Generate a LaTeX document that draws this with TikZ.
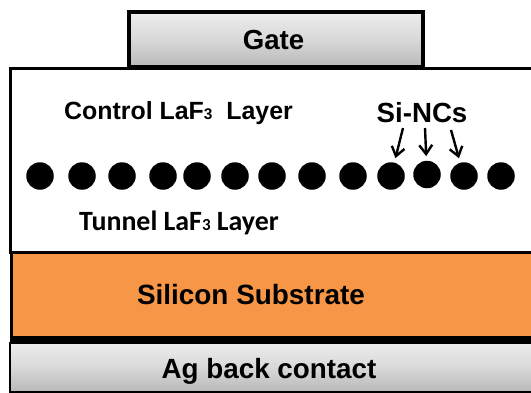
\documentclass[tikz,border=0pt]{standalone}
\usepackage{fontspec}
\setmainfont{Liberation Sans}
\newfontfamily\calib{Carlito}
\usetikzlibrary{arrows.meta}
\definecolor{orangefill}{HTML}{F79646}
\tikzset{
  metal/.style={draw=black,top color=gray!14!white,bottom color=gray!55!white,middle color=gray!30!white},
  lbl/.style={inner sep=0pt,anchor=base,font=\bfseries},
  dot/.style={circle,fill=black,minimum width=27.5bp,minimum height=27.5bp,inner sep=0pt},
  pointer/.style={draw=black,line width=2.4bp,shorten >=4.5bp,-{Straight Barb[length=9bp,width=13bp,line width=2.4bp]}}
}
\begin{document}
\begin{tikzpicture}[x=1bp,y=-1bp]
\useasboundingbox (0,0) rectangle (531,392);
\clip (0,0) rectangle (531,392);
% layers
\draw[line width=3bp,fill=white] (10,68) rectangle (560,252.5);
\draw[metal,line width=4bp] (128.5,11.5) rectangle (422.5,66.5);
\draw[line width=3.4bp,fill=orangefill] (11.5,252.5) rectangle (560,338);
\draw[metal,line width=2bp] (9.5,342.5) rectangle (560,391.5);
\draw[line width=6bp] (10,338.5) -- (531,338.5);
% labels
\node[lbl,font=\bfseries\fontsize{27.7}{27.7}\selectfont] (gate) at (273.5,49) {Gate};
\node[lbl,font=\bfseries\fontsize{25}{25}\selectfont] (ctrl) at (178.5,119.5) {Control LaF{\fontsize{15.5}{15.5}\selectfont 3}\ \ Layer};
\node[lbl,font=\bfseries\fontsize{27.8}{27.8}\selectfont] (si) at (422,122) {Si-NCs};
\node[lbl,font=\calib\bfseries\fontsize{28}{28}\selectfont] (tun) at (179,230) {Tunnel LaF{\fontsize{17}{17}\selectfont 3} Layer};
\node[lbl,font=\bfseries\fontsize{28}{28}\selectfont] (sub) at (251,304.5) {Silicon Substrate};
\node[lbl,font=\bfseries\fontsize{27.9}{27.9}\selectfont] (ag) at (269,378.5) {Ag back contact};
% nanocrystals
\foreach \n/\x/\y in {a/40/176,b/82/176,c/122/176,d/163/176,e/197/176,f/235/176,g/272/176,h/312/176,i/353/176,j/391/176,k/427/174.5,l/464/176,m/501/176}
  \node[dot] (\n) at (\x,\y) {};
% pointers
\coordinate (p1) at (403,128);
\coordinate (p2) at (425,128);
\coordinate (p3) at (451,130);
\draw[pointer] (p1) -- (j);
\draw[pointer] (p2) -- (k);
\draw[pointer] (p3) -- (l);
\end{tikzpicture}
\end{document}
